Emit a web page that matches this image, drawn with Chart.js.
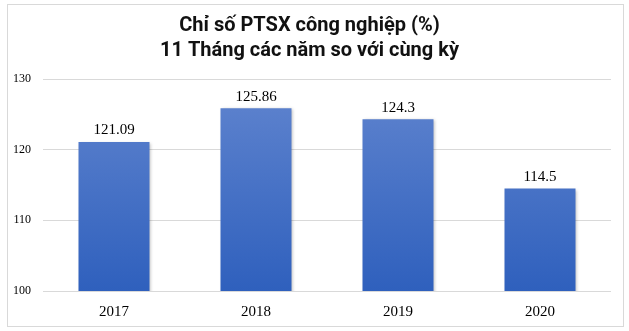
<!DOCTYPE html>
<html>
<head>
<meta charset="utf-8">
<script src="https://cdn.jsdelivr.net/npm/chart.js@4.4.0/dist/chart.umd.min.js"></script>
<style>
  body { margin: 0; background: #fff; }
  #wrap { position: absolute; left: 7px; top: 4px; width: 615px; height: 321px; border: 1px solid #d9d9d9; }
</style>
</head>
<body>
<div id="wrap"><canvas id="chart"></canvas></div>
<script>
const years = ['2017', '2018', '2019', '2020'];
const values = [121.09, 125.86, 124.3, 114.5];
const valueLabels = ['121.09', '125.86', '124.3', '114.5'];
const yTicks = [100, 110, 120, 130];

// gradient bars, lighter at top
function barFill(context) {
    const chart = context.chart;
    const area = chart.chartArea;
    if (!area) return '#4472c4';
    const g = chart.ctx.createLinearGradient(0, area.top, 0, area.bottom);
    g.addColorStop(0, '#6185cf');
    g.addColorStop(1, '#2f60bd');
    return g;
}

const valueLabelPlugin = {
    id: 'valueLabels',
    afterDatasetsDraw(chart) {
        const ctx = chart.ctx;
        const meta = chart.getDatasetMeta(0);
        ctx.save();
        ctx.font = '15px "Liberation Serif", serif';
        ctx.fillStyle = '#000';
        ctx.textAlign = 'center';
        ctx.textBaseline = 'bottom';
        meta.data.forEach((bar, i) => {
            ctx.fillText(valueLabels[i], bar.x, bar.y - 4);
        });
        ctx.restore();
    }
};

const shadowPlugin = {
    id: 'barShadow',
    beforeDatasetDraw(chart) {
        const ctx = chart.ctx;
        ctx.save();
        ctx.shadowColor = 'rgba(0,0,0,0.25)';
        ctx.shadowBlur = 3;
        ctx.shadowOffsetX = 1;
        ctx.shadowOffsetY = 1;
    },
    afterDatasetDraw(chart) {
        chart.ctx.restore();
    }
};

new Chart(document.getElementById('chart'), {
    type: 'bar',
    data: {
        labels: years,
        datasets: [{
            data: values,
            backgroundColor: barFill,
            borderWidth: 0,
            barPercentage: 0.5,
            categoryPercentage: 1
        }]
    },
    plugins: [shadowPlugin, valueLabelPlugin],
    options: {
        responsive: true,
        maintainAspectRatio: false,
        animation: false,
        layout: { padding: { left: 0, right: 12, top: 0, bottom: 1 } },
        plugins: {
            legend: { display: false },
            tooltip: { enabled: false },
            title: {
                display: true,
                text: ['Chỉ số PTSX công nghiệp (%)', '11 Tháng các năm so với cùng kỳ'],
                font: { family: 'Roboto', size: 20, weight: 'bold', lineHeight: 1.25 },
                color: '#111',
                padding: { top: 8, bottom: 16 }
            }
        },
        scales: {
            x: {
                grid: { display: false },
                border: { display: false },
                ticks: {
                    color: '#000',
                    font: { family: '"Liberation Serif", serif', size: 15 },
                    padding: 4
                }
            },
            y: {
                min: 100,
                max: 130,
                afterBuildTicks(axis) {
                    axis.ticks = yTicks.map(v => ({ value: v }));
                },
                afterFit(axis) {
                    axis.width = 35;
                },
                grid: { color: '#d9d9d9', lineWidth: 1, drawTicks: false },
                border: { display: false },
                ticks: {
                    color: '#000',
                    font: { family: '"Liberation Serif", serif', size: 12 },
                    padding: 12
                }
            }
        }
    }
});
</script>
</body>
</html>
